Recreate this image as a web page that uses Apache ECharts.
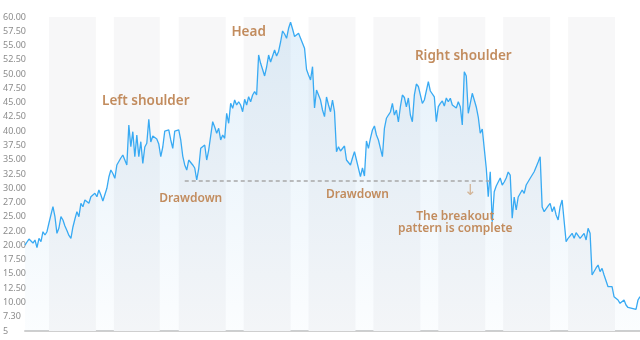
<!DOCTYPE html>
<html>
<head>
<meta charset="utf-8">
<script src="https://cdn.jsdelivr.net/npm/echarts@6/dist/echarts.min.js"></script>
<style>
html,body{margin:0;padding:0;background:#fff;}
#chart{width:640px;height:340px;}
</style>
</head>
<body>
<div id="chart"></div>
<script>
// Price series (one value per period)
const prices = [
20.06,20.59,21.11,20.76,20.41,20.94,19.59,21.24,20.64,22.39,
21.82,22.39,23.92,23.57,26.77,25.02,22.11,23.04,25.02,24.44,
23.39,22.60,21.73,21.24,23.22,24.62,25.90,25.02,27.37,26.77,
27.95,28.24,27.37,28.52,28.24,29.12,28.52,29.70,28.82,27.77,
27.95,30.00,31.97,33.20,32.59,31.75,34.08,33.78,35.30,35.83,
36.18,34.08,41.08,37.28,39.91,35.53,39.33,35.53,38.16,34.37,
37.23,37.88,42.08,38.11,39.16,39.03,38.63,37.75,35.53,37.23,
40.03,39.86,40.21,38.46,37.00,40.03,40.03,40.21,38.46,35.65,
34.08,33.20,34.95,34.65,34.08,33.55,31.45,33.46,37.00,37.28,
37.58,34.95,36.70,36.41,41.66,40.73,39.63,40.50,38.46,39.33,
38.75,43.13,41.38,44.88,44.01,45.46,44.59,45.16,44.59,43.41,
45.58,44.59,46.04,45.16,46.34,46.92,46.34,53.34,51.89,50.80,
49.67,51.24,53.34,52.12,52.47,54.22,53.17,53.96,55.62,57.55,
57.02,56.27,58.02,59.07,57.90,56.58,56.50,57.15,56.27,56.32,
54.52,50.80,49.84,48.97,51.30,44.06,47.21,47.51,45.46,43.71,
42.54,45.99,44.59,43.41,45.46,43.41,36.41,37.28,36.53,36.53,
37.40,34.95,35.30,34.08,35.30,36.41,34.95,34.95,32.03,33.55,
32.15,38.28,37.00,38.75,40.21,40.91,39.33,38.46,37.00,35.53,
40.50,42.26,42.83,43.36,44.88,42.83,43.71,41.61,44.29,46.34,
45.90,44.24,45.81,42.83,41.66,46.34,48.26,47.83,47.91,44.88,
45.46,45.16,48.67,47.04,47.21,45.99,41.66,44.29,44.88,45.29,
44.41,45.81,45.16,45.76,44.59,44.94,44.06,45.16,44.29,41.08,
50.42,49.67,43.13,44.88,46.64,45.46,44.24,42.48,39.63,40.38,
40.50,33.55,28.52,32.90,24.15,29.40,30.40,31.10,31.80,30.57,
31.10,31.80,32.85,32.32,24.74,28.47,26.19,28.47,28.24,29.70,
29.12,30.57,30.75,31.75,31.45,32.90,32.62,34.60,35.53,26.72,
25.90,25.67,26.90,27.37,25.90,26.77,25.32,24.44,26.77,27.95,
28.07,20.64,21.24,20.94,22.11,21.24,22.22,22.22,21.24,21.52,
22.11,20.94,22.99,22.11,14.81,14.51,16.04,16.56,15.39,15.98,
14.81,14.51,12.76,12.76,12.76,11.01,10.73,10.43,9.85,9.85,
10.43,9.55,9.12,8.98,8.98,8.94,8.80,10.43,11.01
];

// Y axis tick labels as printed (bottom to top)
const tickLabels = ['5','7.30','10.00','12.50','15.00','17.50','20.00','22.00','25.00','27.00','30.00',
  '32.50','35.00','37.50','40.00','42.50','45.00','47.50','50.00','52.50','55.00','57.50','60.00'];

// Neckline level and its span (period indices)
const necklineLevel = 31.27;
const necklineSpan = [80, 233];

// Annotations: [text, period index, price level]
const annotationTexts = ['Left shoulder','Head','Right shoulder','Drawdown','Drawdown','The breakout\npattern is complete','↓'];
const annotationIdx = [60.5, 112, 219.5, 83, 166.5, 215.5, 223];
const annotationLvl = [45.29, 57.37, 53.17, 28.12, 28.82, 23.92, 29.5];

// Shaded period bands [start index, end index]
const periodBands = [[12,35.5],[44.5,67.5],[77,100.5],[109.5,133],[142,165.5],[174.5,198],[207,230.5],[239.5,263],[272,295.5]];

const chart = echarts.init(document.getElementById('chart'), null, {renderer:'canvas'});
const lineData = prices.map((v,i)=>[i,v]);
const big = [0,1,2];
const annoColor = '#c28c5e';

const markPts = annotationTexts.map((t,k)=>{
  const isBig = big.includes(k);
  const isArrow = t === '↓';
  return {
    coord:[annotationIdx[k], annotationLvl[k]],
    symbolSize:0,
    label:{
      show:true, position:'inside', formatter:t,
      color: isArrow ? '#d3b597' : annoColor,
      fontFamily: isArrow ? 'DejaVu Sans' : 'Noto Sans',
      fontWeight: isArrow ? 'normal' : 600,
      fontSize: isBig ? 13.5 : (isArrow ? 15 : 12),
      lineHeight: 12,
      align:'center', verticalAlign:'middle'
    }
  };
});

chart.setOption({
  animation:false,
  backgroundColor:'#ffffff',
  grid:{left:24,right:0,top:17,bottom:9,containLabel:false},
  xAxis:{
    type:'value', min:0, max:prices.length-1,
    axisLine:{show:true,onZero:false,lineStyle:{color:'#cfcfcf',width:2}},
    axisTick:{show:false}, axisLabel:{show:false}, splitLine:{show:false}
  },
  yAxis:{
    type:'value', min:5, max:60, interval:2.5,
    axisLine:{show:false}, axisTick:{show:false}, splitLine:{show:false},
    axisLabel:{
      align:'left', margin:22, color:'#8c8c8c', fontSize:9, fontFamily:'Noto Sans',
      formatter:(v)=>tickLabels[Math.round((v-5)/2.5)]
    }
  },
  series:[
    {
      type:'line', data:[], z:0, silent:true,
      markArea:{
        silent:true,
        itemStyle:{color:'#f7f7f8'},
        data: periodBands.map(b=>[{xAxis:b[0], yAxis:60.35},{xAxis:b[1], yAxis:5}])
      }
    },
    {
      type:'line', data:lineData, z:2, showSymbol:false, symbol:'none',
      lineStyle:{color:'#38aaf3', width:1.3},
      areaStyle:{
        color:new echarts.graphic.LinearGradient(0,0,0,1,[
          {offset:0,color:'rgba(74,160,225,0.22)'},
          {offset:1,color:'rgba(74,160,225,0.03)'}
        ])
      },
      markLine:{
        silent:true, symbol:['none','none'],
        lineStyle:{color:'#a8a8a8', type:[4,3], width:1.5},
        label:{show:false},
        data:[[{coord:[necklineSpan[0],necklineLevel]},{coord:[necklineSpan[1],necklineLevel]}]]
      },
      markPoint:{ silent:true, symbol:'circle', data:markPts }
    }
  ]
});
</script>
</body>
</html>
